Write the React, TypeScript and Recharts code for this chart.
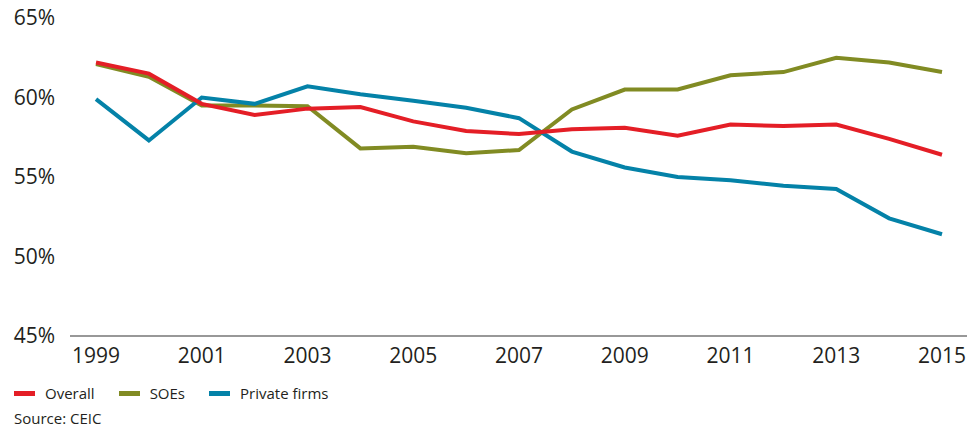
import { LineChart, Line, XAxis, YAxis } from 'recharts'

const years = ['1999', '2000', '2001', '2002', '2003', '2004', '2005', '2006', '2007', '2008', '2009', '2010', '2011', '2012', '2013', '2014', '2015']
const overall = [62.2, 61.5, 59.6, 58.9, 59.3, 59.4, 58.5, 57.9, 57.7, 58.0, 58.1, 57.6, 58.3, 58.2, 58.3, 57.4, 56.4]
const soes = [62.1, 61.3, 59.5, 59.5, 59.45, 56.8, 56.9, 56.5, 56.7, 59.25, 60.5, 60.5, 61.4, 61.6, 62.5, 62.2, 61.6]
const privateFirms = [59.9, 57.3, 60.0, 59.6, 60.7, 60.2, 59.8, 59.35, 58.7, 56.6, 55.6, 55.0, 54.8, 54.45, 54.25, 52.4, 51.4]
const yTicks = [45, 50, 55, 60, 65]

const series = [
  { key: 'overall', name: 'Overall', color: '#e41e26' },
  { key: 'soes', name: 'SOEs', color: '#818b23' },
  { key: 'privateFirms', name: 'Private firms', color: '#0482a8' },
]

const FONT = '"Open Sans", sans-serif'
const TEXT = '#231f20'

export default function App() {
  const data = years.map((year, i) => ({
    year,
    overall: overall[i],
    soes: soes[i],
    privateFirms: privateFirms[i],
  }))

  // chart starts a few px higher so the 65% label is not clipped at the svg top
  return (
    <div style={{ width: 964, height: 423, marginTop: -4, fontFamily: FONT, color: TEXT }}>
      <LineChart width={964} height={369} data={data} margin={{ top: 14, right: 5, bottom: 0, left: 0 }}>
        <XAxis
          dataKey="year"
          interval={1}
          padding={{ left: 26, right: 25 }}
          tickLine={false}
          tickSize={0}
          tickMargin={12}
          height={37}
          axisLine={{ stroke: '#333', strokeWidth: 1.2 }}
          tick={{ fill: TEXT, fontSize: 21, fontFamily: FONT }}
        />
        <YAxis
          domain={[45, 65]}
          ticks={yTicks}
          width={62}
          axisLine={false}
          tickLine={false}
          tickSize={0}
          tickMargin={15}
          tickFormatter={(v: number) => `${v}%`}
          tick={{ fill: TEXT, fontSize: 21, fontFamily: FONT }}
        />
        <Line dataKey="soes" stroke="#818b23" strokeWidth={4} dot={false} isAnimationActive={false} />
        <Line dataKey="privateFirms" stroke="#0482a8" strokeWidth={4} dot={false} isAnimationActive={false} />
        <Line dataKey="overall" stroke="#e41e26" strokeWidth={4} dot={false} isAnimationActive={false} />
      </LineChart>
      <div style={{ display: 'flex', alignItems: 'center', marginLeft: 6, marginTop: 8, height: 24, fontSize: 15 }}>
        {series.map((s) => (
          <div key={s.key} style={{ display: 'flex', alignItems: 'center', marginRight: 24 }}>
            <svg width={21} height={5} style={{ marginRight: 10 }}>
              <rect width={21} height={5} fill={s.color} />
            </svg>
            <span>{s.name}</span>
          </div>
        ))}
      </div>
      <div style={{ marginLeft: 6, marginTop: 3, fontSize: 15 }}>Source: CEIC</div>
    </div>
  )
}
